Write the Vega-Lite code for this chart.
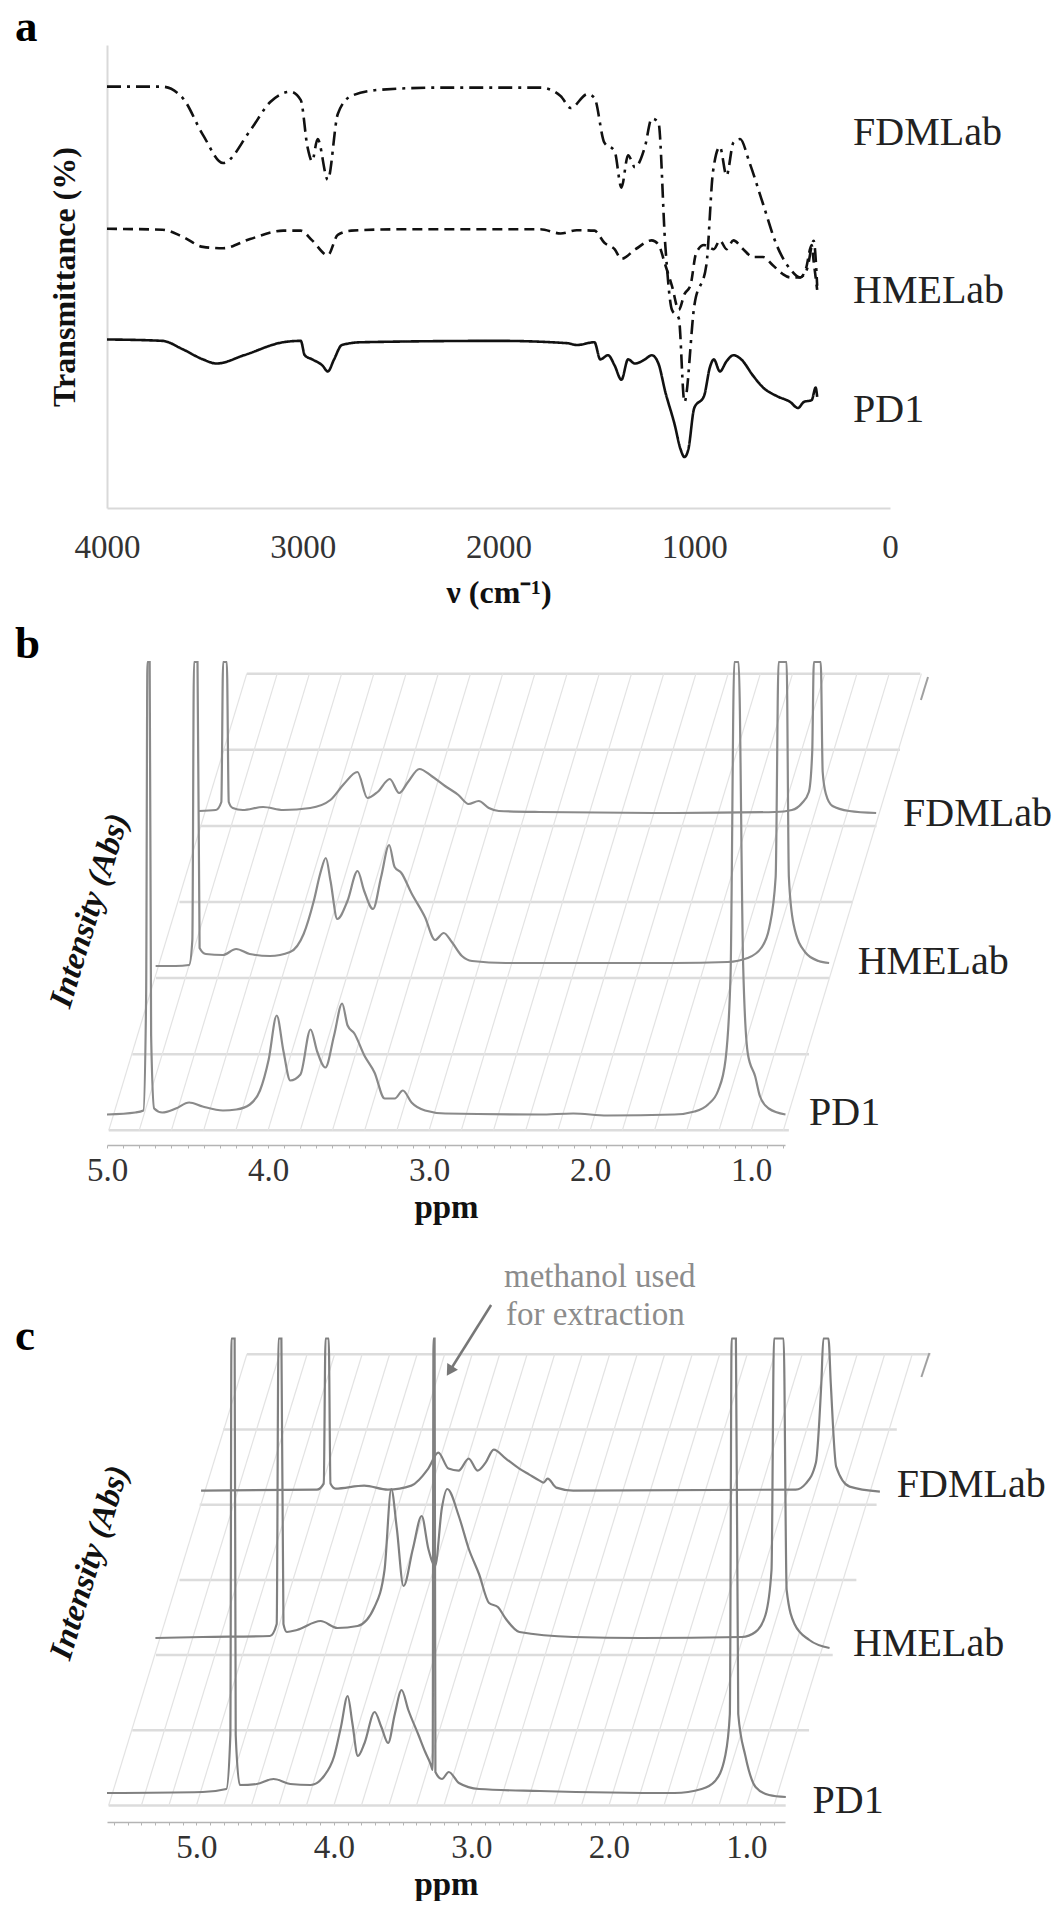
{
  "$schema": "https://vega.github.io/schema/vega-lite/v6.json",
  "padding": {"left": 14, "top": 5, "right": 0, "bottom": 0},
  "bounds": "flush",
  "spacing": 154,
  "config": {
    "view": {"stroke": null},
    "font": "Liberation Serif, Times New Roman, serif",
    "axis": {"labelFont": "Liberation Serif, Times New Roman, serif", "titleFont": "Liberation Serif, Times New Roman, serif", "grid": false},
    "text": {"font": "Liberation Serif, Times New Roman, serif"}
  },
  "datasets": {
    "ftir": [
      {"s":"FDMLab","wn":4000,"t":91.0},{"s":"FDMLab","wn":3717,"t":91.0},{"s":"FDMLab","wn":3614,"t":88.6},{"s":"FDMLab","wn":3510,"t":80.6},{"s":"FDMLab","wn":3407,"t":74.5},{"s":"FDMLab","wn":3269,"t":81.5},{"s":"FDMLab","wn":3166,"t":87.7},{"s":"FDMLab","wn":3062,"t":89.9},{"s":"FDMLab","wn":3010,"t":88.1},{"s":"FDMLab","wn":2976,"t":78.0},{"s":"FDMLab","wn":2952,"t":74.9},{"s":"FDMLab","wn":2924,"t":79.7},{"s":"FDMLab","wn":2872,"t":70.9},{"s":"FDMLab","wn":2821,"t":85.1},{"s":"FDMLab","wn":2752,"t":89.0},{"s":"FDMLab","wn":2614,"t":90.3},{"s":"FDMLab","wn":2303,"t":90.8},{"s":"FDMLab","wn":1786,"t":90.8},{"s":"FDMLab","wn":1683,"t":89.0},{"s":"FDMLab","wn":1631,"t":86.4},{"s":"FDMLab","wn":1545,"t":89.4},{"s":"FDMLab","wn":1510,"t":88.6},{"s":"FDMLab","wn":1459,"t":78.9},{"s":"FDMLab","wn":1407,"t":77.1},{"s":"FDMLab","wn":1372,"t":69.2},{"s":"FDMLab","wn":1338,"t":76.2},{"s":"FDMLab","wn":1303,"t":73.6},{"s":"FDMLab","wn":1252,"t":78.0},{"s":"FDMLab","wn":1217,"t":84.1},{"s":"FDMLab","wn":1183,"t":83.3},{"s":"FDMLab","wn":1148,"t":56.8},{"s":"FDMLab","wn":1114,"t":42.8},{"s":"FDMLab","wn":1079,"t":41.0},{"s":"FDMLab","wn":1050,"t":22.9},{"s":"FDMLab","wn":1000,"t":43.6},{"s":"FDMLab","wn":938,"t":52.5},{"s":"FDMLab","wn":904,"t":72.7},{"s":"FDMLab","wn":869,"t":78.0},{"s":"FDMLab","wn":835,"t":71.8},{"s":"FDMLab","wn":800,"t":78.9},{"s":"FDMLab","wn":766,"t":79.7},{"s":"FDMLab","wn":717,"t":74.5},{"s":"FDMLab","wn":648,"t":65.6},{"s":"FDMLab","wn":579,"t":56.8},{"s":"FDMLab","wn":510,"t":51.6},{"s":"FDMLab","wn":459,"t":49.8},{"s":"FDMLab","wn":424,"t":51.6},{"s":"FDMLab","wn":390,"t":57.7},{"s":"FDMLab","wn":372,"t":48.0},
      {"s":"HMELab","wn":4000,"t":60.3},{"s":"HMELab","wn":3717,"t":60.1},{"s":"HMELab","wn":3614,"t":58.6},{"s":"HMELab","wn":3510,"t":56.4},{"s":"HMELab","wn":3407,"t":56.1},{"s":"HMELab","wn":3269,"t":58.1},{"s":"HMELab","wn":3100,"t":59.9},{"s":"HMELab","wn":3010,"t":59.9},{"s":"HMELab","wn":2952,"t":57.8},{"s":"HMELab","wn":2872,"t":54.6},{"s":"HMELab","wn":2821,"t":59.0},{"s":"HMELab","wn":2752,"t":59.9},{"s":"HMELab","wn":2500,"t":60.2},{"s":"HMELab","wn":1786,"t":60.2},{"s":"HMELab","wn":1683,"t":59.3},{"s":"HMELab","wn":1600,"t":60.0},{"s":"HMELab","wn":1510,"t":59.9},{"s":"HMELab","wn":1459,"t":57.3},{"s":"HMELab","wn":1407,"t":55.9},{"s":"HMELab","wn":1372,"t":53.8},{"s":"HMELab","wn":1300,"t":55.9},{"s":"HMELab","wn":1217,"t":57.8},{"s":"HMELab","wn":1183,"t":56.9},{"s":"HMELab","wn":1148,"t":52.5},{"s":"HMELab","wn":1114,"t":48.0},{"s":"HMELab","wn":1079,"t":42.8},{"s":"HMELab","wn":1050,"t":46.2},{"s":"HMELab","wn":1020,"t":48.0},{"s":"HMELab","wn":990,"t":55.1},{"s":"HMELab","wn":950,"t":56.8},{"s":"HMELab","wn":900,"t":55.9},{"s":"HMELab","wn":869,"t":57.8},{"s":"HMELab","wn":835,"t":55.9},{"s":"HMELab","wn":800,"t":57.8},{"s":"HMELab","wn":750,"t":55.9},{"s":"HMELab","wn":700,"t":54.2},{"s":"HMELab","wn":648,"t":54.2},{"s":"HMELab","wn":600,"t":52.5},{"s":"HMELab","wn":550,"t":50.6},{"s":"HMELab","wn":510,"t":49.8},{"s":"HMELab","wn":459,"t":49.8},{"s":"HMELab","wn":430,"t":51.6},{"s":"HMELab","wn":400,"t":56.8},{"s":"HMELab","wn":390,"t":53.3},{"s":"HMELab","wn":372,"t":47.1},
      {"s":"PD1","wn":4000,"t":36.4},{"s":"PD1","wn":3717,"t":36.1},{"s":"PD1","wn":3614,"t":34.3},{"s":"PD1","wn":3510,"t":32.1},{"s":"PD1","wn":3440,"t":31.2},{"s":"PD1","wn":3300,"t":33.0},{"s":"PD1","wn":3100,"t":35.8},{"s":"PD1","wn":3010,"t":36.1},{"s":"PD1","wn":2990,"t":33.0},{"s":"PD1","wn":2952,"t":32.1},{"s":"PD1","wn":2900,"t":30.8},{"s":"PD1","wn":2872,"t":29.5},{"s":"PD1","wn":2840,"t":32.1},{"s":"PD1","wn":2800,"t":35.2},{"s":"PD1","wn":2700,"t":35.8},{"s":"PD1","wn":2000,"t":36.1},{"s":"PD1","wn":1650,"t":35.6},{"s":"PD1","wn":1600,"t":35.2},{"s":"PD1","wn":1510,"t":35.8},{"s":"PD1","wn":1480,"t":32.1},{"s":"PD1","wn":1440,"t":33.0},{"s":"PD1","wn":1407,"t":30.8},{"s":"PD1","wn":1372,"t":27.7},{"s":"PD1","wn":1338,"t":32.1},{"s":"PD1","wn":1303,"t":31.2},{"s":"PD1","wn":1252,"t":32.1},{"s":"PD1","wn":1217,"t":33.0},{"s":"PD1","wn":1183,"t":31.2},{"s":"PD1","wn":1148,"t":25.1},{"s":"PD1","wn":1100,"t":18.0},{"s":"PD1","wn":1070,"t":12.7},{"s":"PD1","wn":1050,"t":11.0},{"s":"PD1","wn":1030,"t":12.7},{"s":"PD1","wn":1000,"t":21.6},{"s":"PD1","wn":950,"t":24.2},{"s":"PD1","wn":920,"t":30.4},{"s":"PD1","wn":900,"t":32.1},{"s":"PD1","wn":869,"t":29.5},{"s":"PD1","wn":835,"t":31.7},{"s":"PD1","wn":800,"t":33.0},{"s":"PD1","wn":760,"t":32.1},{"s":"PD1","wn":700,"t":28.6},{"s":"PD1","wn":648,"t":26.0},{"s":"PD1","wn":580,"t":24.2},{"s":"PD1","wn":510,"t":22.9},{"s":"PD1","wn":470,"t":21.6},{"s":"PD1","wn":440,"t":22.9},{"s":"PD1","wn":400,"t":23.3},{"s":"PD1","wn":380,"t":26.0},{"s":"PD1","wn":372,"t":24.0}
    ],
    "ftir_labels": [
      {"s":"FDMLab","wn":189,"t":81.0},{"s":"HMELab","wn":189,"t":46.9},{"s":"PD1","wn":189,"t":21.2}
    ],
    "b_pd1": [
      {"ppm":5.0,"int":0},{"ppm":4.824,"int":2},{"ppm":4.774,"int":4},{"ppm":4.757,"int":119},{"ppm":4.749,"int":452.5},{"ppm":4.735,"int":452.5},{"ppm":4.726,"int":79},{"ppm":4.707,"int":6},{"ppm":4.657,"int":2},{"ppm":4.573,"int":6},{"ppm":4.49,"int":12},{"ppm":4.406,"int":8},{"ppm":4.28,"int":4},{"ppm":4.197,"int":5},{"ppm":4.113,"int":10},{"ppm":4.05,"int":24},{"ppm":3.996,"int":55},{"ppm":3.946,"int":99},{"ppm":3.904,"int":63},{"ppm":3.862,"int":34},{"ppm":3.799,"int":40},{"ppm":3.736,"int":85},{"ppm":3.695,"int":63},{"ppm":3.644,"int":47},{"ppm":3.59,"int":79},{"ppm":3.54,"int":111},{"ppm":3.506,"int":89},{"ppm":3.464,"int":81},{"ppm":3.402,"int":59},{"ppm":3.339,"int":42},{"ppm":3.276,"int":16},{"ppm":3.213,"int":16},{"ppm":3.163,"int":24},{"ppm":3.109,"int":12},{"ppm":3.025,"int":4},{"ppm":2.9,"int":1},{"ppm":2.314,"int":0},{"ppm":2.105,"int":1},{"ppm":1.895,"int":-1},{"ppm":1.477,"int":0},{"ppm":1.351,"int":3},{"ppm":1.268,"int":10},{"ppm":1.205,"int":24},{"ppm":1.159,"int":55},{"ppm":1.128,"int":140},{"ppm":1.105,"int":452.5},{"ppm":1.078,"int":452.5},{"ppm":1.05,"int":150},{"ppm":1.02,"int":60},{"ppm":0.975,"int":38},{"ppm":0.945,"int":18},{"ppm":0.891,"int":6},{"ppm":0.787,"int":0}
    ],
    "b_hme": [
      {"ppm":4.99,"int":-2},{"ppm":4.866,"int":-2},{"ppm":4.782,"int":-1},{"ppm":4.762,"int":24},{"ppm":4.752,"int":302},{"ppm":4.73,"int":302},{"ppm":4.717,"int":16},{"ppm":4.678,"int":10},{"ppm":4.573,"int":9},{"ppm":4.49,"int":15},{"ppm":4.406,"int":10},{"ppm":4.28,"int":8},{"ppm":4.155,"int":12},{"ppm":4.071,"int":30},{"ppm":4.008,"int":63},{"ppm":3.967,"int":91},{"ppm":3.933,"int":106},{"ppm":3.904,"int":83},{"ppm":3.862,"int":45},{"ppm":3.799,"int":63},{"ppm":3.736,"int":93},{"ppm":3.695,"int":73},{"ppm":3.64,"int":55},{"ppm":3.59,"int":87},{"ppm":3.54,"int":119},{"ppm":3.506,"int":97},{"ppm":3.464,"int":91},{"ppm":3.402,"int":71},{"ppm":3.318,"int":47},{"ppm":3.255,"int":24},{"ppm":3.201,"int":31},{"ppm":3.151,"int":22},{"ppm":3.088,"int":8},{"ppm":3.025,"int":3},{"ppm":2.816,"int":1},{"ppm":2.188,"int":1},{"ppm":1.77,"int":1},{"ppm":1.439,"int":2},{"ppm":1.314,"int":6},{"ppm":1.23,"int":16},{"ppm":1.18,"int":36},{"ppm":1.14,"int":87},{"ppm":1.122,"int":302},{"ppm":1.072,"int":302},{"ppm":1.058,"int":87},{"ppm":1.029,"int":40},{"ppm":0.958,"int":12},{"ppm":0.874,"int":3},{"ppm":0.808,"int":1}
    ],
    "b_fdm": [
      {"ppm":5.013,"int":1},{"ppm":4.908,"int":2},{"ppm":4.874,"int":10},{"ppm":4.863,"int":150},{"ppm":4.84,"int":150},{"ppm":4.828,"int":10},{"ppm":4.803,"int":4},{"ppm":4.741,"int":2},{"ppm":4.615,"int":5},{"ppm":4.49,"int":2},{"ppm":4.322,"int":4},{"ppm":4.197,"int":12},{"ppm":4.113,"int":28},{"ppm":4.029,"int":40},{"ppm":3.967,"int":14},{"ppm":3.904,"int":20},{"ppm":3.828,"int":33},{"ppm":3.77,"int":19},{"ppm":3.715,"int":30},{"ppm":3.644,"int":43},{"ppm":3.569,"int":36},{"ppm":3.485,"int":26},{"ppm":3.402,"int":17},{"ppm":3.339,"int":8},{"ppm":3.276,"int":11},{"ppm":3.213,"int":4},{"ppm":3.151,"int":1},{"ppm":2.9,"int":0},{"ppm":2.063,"int":-1},{"ppm":1.435,"int":0},{"ppm":1.331,"int":2},{"ppm":1.268,"int":9},{"ppm":1.226,"int":20},{"ppm":1.205,"int":60},{"ppm":1.195,"int":150},{"ppm":1.152,"int":150},{"ppm":1.14,"int":40},{"ppm":1.12,"int":18},{"ppm":1.079,"int":6},{"ppm":0.975,"int":1},{"ppm":0.808,"int":-1}
    ],
    "c_pd1": [
      {"ppm":5.65,"int":0},{"ppm":4.954,"int":1},{"ppm":4.782,"int":4},{"ppm":4.753,"int":58},{"ppm":4.745,"int":454.5},{"ppm":4.722,"int":454.5},{"ppm":4.714,"int":58},{"ppm":4.684,"int":8},{"ppm":4.562,"int":9},{"ppm":4.439,"int":14},{"ppm":4.317,"int":9},{"ppm":4.17,"int":8},{"ppm":4.072,"int":17},{"ppm":3.998,"int":37},{"ppm":3.949,"int":66},{"ppm":3.9,"int":97},{"ppm":3.866,"int":70},{"ppm":3.826,"int":37},{"ppm":3.777,"int":50},{"ppm":3.704,"int":81},{"ppm":3.655,"int":66},{"ppm":3.606,"int":50},{"ppm":3.557,"int":79},{"ppm":3.508,"int":103},{"ppm":3.459,"int":83},{"ppm":3.385,"int":58},{"ppm":3.336,"int":41},{"ppm":3.297,"int":29},{"ppm":3.282,"int":23},{"ppm":3.276,"int":454.5},{"ppm":3.268,"int":454.5},{"ppm":3.262,"int":21},{"ppm":3.214,"int":14},{"ppm":3.165,"int":21},{"ppm":3.091,"int":10},{"ppm":2.944,"int":4},{"ppm":2.503,"int":2},{"ppm":1.523,"int":0},{"ppm":1.326,"int":4},{"ppm":1.228,"int":12},{"ppm":1.155,"int":37},{"ppm":1.121,"int":79},{"ppm":1.108,"int":454.5},{"ppm":1.077,"int":454.5},{"ppm":1.06,"int":79},{"ppm":1.008,"int":37},{"ppm":0.934,"int":6},{"ppm":0.836,"int":-2},{"ppm":0.714,"int":-4}
    ],
    "c_hme": [
      {"ppm":5.64,"int":0},{"ppm":5.297,"int":1},{"ppm":4.807,"int":2},{"ppm":4.758,"int":14},{"ppm":4.745,"int":299.5},{"ppm":4.724,"int":299.5},{"ppm":4.709,"int":14},{"ppm":4.684,"int":6},{"ppm":4.611,"int":8},{"ppm":4.439,"int":17},{"ppm":4.317,"int":10},{"ppm":4.17,"int":12},{"ppm":4.047,"int":31},{"ppm":3.974,"int":68},{"ppm":3.925,"int":149},{"ppm":3.885,"int":110},{"ppm":3.836,"int":52},{"ppm":3.768,"int":89},{"ppm":3.704,"int":122},{"ppm":3.655,"int":89},{"ppm":3.606,"int":72},{"ppm":3.557,"int":130},{"ppm":3.518,"int":149},{"ppm":3.434,"int":122},{"ppm":3.361,"int":89},{"ppm":3.287,"int":64},{"ppm":3.214,"int":35},{"ppm":3.15,"int":31},{"ppm":3.091,"int":19},{"ppm":2.993,"int":6},{"ppm":2.601,"int":1},{"ppm":2.111,"int":0},{"ppm":1.375,"int":1},{"ppm":1.277,"int":6},{"ppm":1.204,"int":23},{"ppm":1.16,"int":68},{"ppm":1.142,"int":299.5},{"ppm":1.072,"int":299.5},{"ppm":1.05,"int":48},{"ppm":0.993,"int":14},{"ppm":0.885,"int":-2},{"ppm":0.738,"int":-10}
    ],
    "c_fdm": [
      {"ppm":5.65,"int":0},{"ppm":4.807,"int":1},{"ppm":4.758,"int":7},{"ppm":4.745,"int":152.1},{"ppm":4.722,"int":152.1},{"ppm":4.709,"int":7},{"ppm":4.674,"int":2},{"ppm":4.464,"int":5},{"ppm":4.292,"int":1},{"ppm":4.121,"int":5},{"ppm":3.998,"int":22},{"ppm":3.925,"int":38},{"ppm":3.851,"int":22},{"ppm":3.777,"int":20},{"ppm":3.704,"int":32},{"ppm":3.64,"int":20},{"ppm":3.581,"int":28},{"ppm":3.522,"int":41},{"ppm":3.434,"int":32},{"ppm":3.336,"int":22},{"ppm":3.263,"int":16},{"ppm":3.189,"int":10},{"ppm":3.16,"int":8},{"ppm":3.13,"int":12},{"ppm":3.067,"int":3},{"ppm":2.944,"int":0},{"ppm":1.326,"int":1},{"ppm":1.253,"int":7},{"ppm":1.179,"int":28},{"ppm":1.14,"int":107},{"ppm":1.125,"int":152.1},{"ppm":1.088,"int":152.1},{"ppm":1.071,"int":107},{"ppm":1.032,"int":24},{"ppm":0.934,"int":4},{"ppm":0.714,"int":-1}
    ],
    "b_gridh": [
      {"ppm":4.989,"ppm2":0.766,"int":-15.8},{"ppm":4.843,"ppm2":0.641,"int":60.3},{"ppm":4.696,"ppm2":0.515,"int":136.4},{"ppm":4.55,"ppm2":0.368,"int":212.5},{"ppm":4.424,"ppm2":0.222,"int":288.6},{"ppm":4.278,"ppm2":0.076,"int":364.7},{"ppm":4.132,"ppm2":-0.05,"int":440.8}
    ],
    "b_grids": [
      {"ppm":4.989,"ppm2":4.132,"int":-15.8,"int2":440.8},{"ppm":4.8,"ppm2":3.943,"int":-15.8,"int2":440.8},{"ppm":4.6,"ppm2":3.743,"int":-15.8,"int2":440.8},{"ppm":4.4,"ppm2":3.543,"int":-15.8,"int2":440.8},{"ppm":4.2,"ppm2":3.343,"int":-15.8,"int2":440.8},{"ppm":4.0,"ppm2":3.143,"int":-15.8,"int2":440.8},{"ppm":3.8,"ppm2":2.943,"int":-15.8,"int2":440.8},{"ppm":3.6,"ppm2":2.743,"int":-15.8,"int2":440.8},{"ppm":3.4,"ppm2":2.543,"int":-15.8,"int2":440.8},{"ppm":3.2,"ppm2":2.343,"int":-15.8,"int2":440.8},{"ppm":3.0,"ppm2":2.143,"int":-15.8,"int2":440.8},{"ppm":2.8,"ppm2":1.943,"int":-15.8,"int2":440.8},{"ppm":2.6,"ppm2":1.743,"int":-15.8,"int2":440.8},{"ppm":2.4,"ppm2":1.543,"int":-15.8,"int2":440.8},{"ppm":2.2,"ppm2":1.343,"int":-15.8,"int2":440.8},{"ppm":2.0,"ppm2":1.143,"int":-15.8,"int2":440.8},{"ppm":1.8,"ppm2":0.943,"int":-15.8,"int2":440.8},{"ppm":1.6,"ppm2":0.743,"int":-15.8,"int2":440.8},{"ppm":1.4,"ppm2":0.543,"int":-15.8,"int2":440.8},{"ppm":1.2,"ppm2":0.343,"int":-15.8,"int2":440.8},{"ppm":1.0,"ppm2":0.143,"int":-15.8,"int2":440.8},{"ppm":0.8,"ppm2":-0.057,"int":-15.8,"int2":440.8}
    ],
    "c_gridh": [
      {"ppm":5.638,"ppm2":0.715,"int":-12.5},{"ppm":5.466,"ppm2":0.545,"int":62.7},{"ppm":5.294,"ppm2":0.373,"int":137.9},{"ppm":5.123,"ppm2":0.201,"int":213.1},{"ppm":4.976,"ppm2":0.054,"int":288.3},{"ppm":4.805,"ppm2":-0.093,"int":363.5},{"ppm":4.633,"ppm2":-0.338,"int":438.7}
    ],
    "c_grids": [
      {"ppm":5.638,"ppm2":4.633,"int":-12.5,"int2":438.7},{"ppm":5.4,"ppm2":4.395,"int":-12.5,"int2":438.7},{"ppm":5.2,"ppm2":4.195,"int":-12.5,"int2":438.7},{"ppm":5.0,"ppm2":3.995,"int":-12.5,"int2":438.7},{"ppm":4.8,"ppm2":3.795,"int":-12.5,"int2":438.7},{"ppm":4.6,"ppm2":3.595,"int":-12.5,"int2":438.7},{"ppm":4.4,"ppm2":3.395,"int":-12.5,"int2":438.7},{"ppm":4.2,"ppm2":3.195,"int":-12.5,"int2":438.7},{"ppm":4.0,"ppm2":2.995,"int":-12.5,"int2":438.7},{"ppm":3.8,"ppm2":2.795,"int":-12.5,"int2":438.7},{"ppm":3.6,"ppm2":2.595,"int":-12.5,"int2":438.7},{"ppm":3.4,"ppm2":2.395,"int":-12.5,"int2":438.7},{"ppm":3.2,"ppm2":2.195,"int":-12.5,"int2":438.7},{"ppm":3.0,"ppm2":1.995,"int":-12.5,"int2":438.7},{"ppm":2.8,"ppm2":1.795,"int":-12.5,"int2":438.7},{"ppm":2.6,"ppm2":1.595,"int":-12.5,"int2":438.7},{"ppm":2.4,"ppm2":1.395,"int":-12.5,"int2":438.7},{"ppm":2.2,"ppm2":1.195,"int":-12.5,"int2":438.7},{"ppm":2.0,"ppm2":0.995,"int":-12.5,"int2":438.7},{"ppm":1.8,"ppm2":0.795,"int":-12.5,"int2":438.7},{"ppm":1.6,"ppm2":0.595,"int":-12.5,"int2":438.7},{"ppm":1.4,"ppm2":0.395,"int":-12.5,"int2":438.7},{"ppm":1.2,"ppm2":0.195,"int":-12.5,"int2":438.7},{"ppm":1.0,"ppm2":-0.005,"int":-12.5,"int2":438.7},{"ppm":0.8,"ppm2":-0.205,"int":-12.5,"int2":438.7}
    ]
  },
  "vconcat": [
    {
      "width": 783,
      "height": 463,
      "encoding": {
        "x": {"field": "wn", "type": "quantitative", "title": "ν (cm⁻¹)",
          "scale": {"domain": [0, 4000], "reverse": true, "nice": false, "zero": false},
          "axis": {"values": [4000, 3000, 2000, 1000, 0], "format": "d", "ticks": false, "tickSize": 0, "labelPadding": 23, "labelFlush": false, "labelFontSize": 33, "labelColor": "#333", "domainColor": "#d9d9d9", "domainWidth": 2, "titleFontSize": 32, "titleFontWeight": "bold", "titleColor": "#111", "titleBaseline": "alphabetic", "titleY": 94}},
        "y": {"field": "t", "type": "quantitative", "title": "Transmittance (%)",
          "scale": {"domain": [0, 100], "nice": false, "zero": false},
          "axis": {"ticks": false, "labels": false, "domainColor": "#d9d9d9", "domainWidth": 2, "titleFontSize": 32, "titleFontWeight": "bold", "titleColor": "#111", "titlePadding": 26}}
      },
      "layer": [
        {
          "data": {"name": "ftir"},
          "mark": {"type": "line", "color": "#111", "strokeWidth": 2.6, "interpolate": "monotone"},
          "encoding": {
            "strokeDash": {"field": "s", "type": "nominal", "scale": {"domain": ["FDMLab", "HMELab", "PD1"], "range": [[14, 6, 3, 6], [10, 6], [1, 0]]}, "legend": null}
          }
        },
        {
          "data": {"name": "ftir_labels"},
          "mark": {"type": "text", "align": "left", "baseline": "middle", "fontSize": 40, "color": "#222"},
          "encoding": {"text": {"field": "s"}}
        },
        {
          "data": {"values": [{"wn": 4470, "t": 100.86, "label": "a"}]},
          "mark": {"type": "text", "align": "left", "baseline": "alphabetic", "fontSize": 45, "fontWeight": "bold", "color": "#000"},
          "encoding": {"text": {"field": "label"}}
        }
      ]
    },
    {
      "width": 678,
      "height": 483,
      "resolve": {"scale": {"x": "independent", "y": "independent"}},
      "layer": [
        {
          "encoding": {
            "x": {"field": "ppm", "type": "quantitative", "title": "ppm",
              "scale": {"domain": [0.79, 5.0], "reverse": true, "nice": false, "zero": false},
              "axis": {"values": [0.8,0.9,1.0,1.1,1.2,1.3,1.4,1.5,1.6,1.7,1.8,1.9,2.0,2.1,2.2,2.3,2.4,2.5,2.6,2.7,2.8,2.9,3.0,3.1,3.2,3.3,3.4,3.5,3.6,3.7,3.8,3.9,4.0,4.1,4.2,4.3,4.4,4.5,4.6,4.7,4.8,4.9,5.0],
                "labelExpr": "abs(datum.value - round(datum.value)) < 0.001 ? format(datum.value, '.1f') : ''",
                "labelOverlap": false, "labelFlush": false, "tickSize": 3, "tickColor": "#b4b4b4", "tickWidth": 1, "domainColor": "#b4b4b4", "domainWidth": 1.5, "labelPadding": 6, "labelFontSize": 33, "labelColor": "#333", "titleFontSize": 33, "titleFontWeight": "bold", "titleColor": "#111", "titleBaseline": "alphabetic", "titleY": 72}},
            "y": {"field": "int", "type": "quantitative", "title": "Intensity (Abs)",
              "scale": {"domain": [-30.5, 452.5], "nice": false, "zero": false},
              "axis": {"domain": false, "ticks": false, "labels": false, "titleAngle": 287, "titleX": -18, "titleY": 248, "titleAlign": "center", "titleBaseline": "middle", "titleFontSize": 33, "titleFontWeight": "bold", "titleFontStyle": "italic", "titleColor": "#111"}}
          },
          "layer": [
            {"data": {"name": "b_gridh"}, "mark": {"type": "rule", "color": "#dcdcdc", "strokeWidth": 2.5}, "encoding": {"x2": {"field": "ppm2"}}},
            {"data": {"name": "b_grids"}, "mark": {"type": "rule", "color": "#e3e3e3", "strokeWidth": 1.2}, "encoding": {"x2": {"field": "ppm2"}, "y2": {"field": "int2"}}},
            {"data": {"values": [{"ppm": -0.098, "ppm2": -0.054, "int": 437.5, "int2": 414.5}]}, "mark": {"type": "rule", "color": "#a0a0a0", "strokeWidth": 2}, "encoding": {"x2": {"field": "ppm2"}, "y2": {"field": "int2"}}},
            {"data": {"name": "b_pd1"}, "mark": {"type": "line", "color": "#8a8a8a", "strokeWidth": 2.2, "interpolate": "monotone"}},
            {"data": {"values": [{"ppm": 0.641, "int": 2, "label": "PD1"}]}, "mark": {"type": "text", "align": "left", "baseline": "middle", "fontSize": 40, "color": "#222"}, "encoding": {"text": {"field": "label"}}},
            {"data": {"values": [{"ppm": 5.571, "int": 456.5, "label": "b"}]}, "mark": {"type": "text", "align": "left", "baseline": "alphabetic", "fontSize": 45, "fontWeight": "bold", "color": "#000"}, "encoding": {"text": {"field": "label"}}}
          ]
        },
        {
          "encoding": {
            "x": {"field": "ppm", "type": "quantitative", "scale": {"domain": [1.082, 5.292], "reverse": true, "nice": false, "zero": false}, "axis": null},
            "y": {"field": "int", "type": "quantitative", "scale": {"domain": [-181, 302], "nice": false, "zero": false}, "axis": null}
          },
          "layer": [
            {"data": {"name": "b_hme"}, "mark": {"type": "line", "color": "#8a8a8a", "strokeWidth": 2.2, "interpolate": "monotone"}},
            {"data": {"values": [{"ppm": 0.631, "int": 1.7, "label": "HMELab"}]}, "mark": {"type": "text", "align": "left", "baseline": "middle", "fontSize": 40, "color": "#222"}, "encoding": {"text": {"field": "label"}}}
          ]
        },
        {
          "encoding": {
            "x": {"field": "ppm", "type": "quantitative", "scale": {"domain": [1.374, 5.584], "reverse": true, "nice": false, "zero": false}, "axis": null},
            "y": {"field": "int", "type": "quantitative", "scale": {"domain": [-333, 150], "nice": false, "zero": false}, "axis": null}
          },
          "layer": [
            {"data": {"name": "b_fdm"}, "mark": {"type": "line", "color": "#8a8a8a", "strokeWidth": 2.2, "interpolate": "monotone"}},
            {"data": {"values": [{"ppm": 0.641, "int": -2, "label": "FDMLab"}]}, "mark": {"type": "text", "align": "left", "baseline": "middle", "fontSize": 40, "color": "#222"}, "encoding": {"text": {"field": "label"}}}
          ]
        }
      ]
    },
    {
      "width": 678,
      "height": 523,
      "resolve": {"scale": {"x": "independent", "y": "independent"}},
      "layer": [
        {
          "encoding": {
            "x": {"field": "ppm", "type": "quantitative", "title": "ppm",
              "scale": {"domain": [0.72, 5.65], "reverse": true, "nice": false, "zero": false},
              "axis": {"values": [0.8,0.9,1.0,1.1,1.2,1.3,1.4,1.5,1.6,1.7,1.8,1.9,2.0,2.1,2.2,2.3,2.4,2.5,2.6,2.7,2.8,2.9,3.0,3.1,3.2,3.3,3.4,3.5,3.6,3.7,3.8,3.9,4.0,4.1,4.2,4.3,4.4,4.5,4.6,4.7,4.8,4.9,5.0,5.1,5.2,5.3,5.4,5.5,5.6],
                "labelExpr": "abs(datum.value - round(datum.value)) < 0.001 ? format(datum.value, '.1f') : ''",
                "labelOverlap": false, "labelFlush": false, "tickSize": 3, "tickColor": "#b4b4b4", "tickWidth": 1, "domainColor": "#b4b4b4", "domainWidth": 1.5, "labelPadding": 6, "labelFontSize": 33, "labelColor": "#333", "titleFontSize": 33, "titleFontWeight": "bold", "titleColor": "#111", "titleBaseline": "alphabetic", "titleY": 72}},
            "y": {"field": "int", "type": "quantitative", "title": "Intensity (Abs)",
              "scale": {"domain": [-29, 494], "nice": false, "zero": false},
              "axis": {"domain": false, "ticks": false, "labels": false, "titleAngle": 287, "titleX": -18, "titleY": 263, "titleAlign": "center", "titleBaseline": "middle", "titleFontSize": 33, "titleFontWeight": "bold", "titleFontStyle": "italic", "titleColor": "#111"}}
          },
          "layer": [
            {"data": {"name": "c_gridh"}, "mark": {"type": "rule", "color": "#dcdcdc", "strokeWidth": 2.5}, "encoding": {"x2": {"field": "ppm2"}}},
            {"data": {"name": "c_grids"}, "mark": {"type": "rule", "color": "#e3e3e3", "strokeWidth": 1.2}, "encoding": {"x2": {"field": "ppm2"}, "y2": {"field": "int2"}}},
            {"data": {"values": [{"ppm": -0.33, "ppm2": -0.272, "int": 440, "int2": 416}]}, "mark": {"type": "rule", "color": "#a0a0a0", "strokeWidth": 2}, "encoding": {"x2": {"field": "ppm2"}, "y2": {"field": "int2"}}},
            {"data": {"name": "c_pd1"}, "mark": {"type": "line", "color": "#808080", "strokeWidth": 2.2, "interpolate": "monotone"}},
            {"data": {"values": [{"ppm": 0.52, "int": -8, "label": "PD1"}]}, "mark": {"type": "text", "align": "left", "baseline": "middle", "fontSize": 40, "color": "#222"}, "encoding": {"text": {"field": "label"}}},
            {"data": {"values": [{"ppm": 2.763, "int": 506, "label": "methanol used"}, {"ppm": 2.749, "int": 468, "label": "for extraction"}]}, "mark": {"type": "text", "align": "left", "baseline": "alphabetic", "fontSize": 33, "color": "#8c8c8c"}, "encoding": {"text": {"field": "label"}}},
            {"data": {"values": [{"ppm": 2.857, "int": 488, "ppm2": 3.158, "int2": 422}]}, "mark": {"type": "rule", "color": "#777777", "strokeWidth": 2.5}, "encoding": {"x2": {"field": "ppm2"}, "y2": {"field": "int2"}}},
            {"data": {"values": [{"ppm": 3.158, "int": 422}]}, "mark": {"type": "point", "shape": "triangle-up", "filled": true, "angle": 212, "size": 160, "color": "#777777", "opacity": 1}},
            {"data": {"values": [{"ppm": 6.319, "int": 443, "label": "c"}]}, "mark": {"type": "text", "align": "left", "baseline": "alphabetic", "fontSize": 45, "fontWeight": "bold", "color": "#000"}, "encoding": {"text": {"field": "label"}}}
          ]
        },
        {
          "encoding": {
            "x": {"field": "ppm", "type": "quantitative", "scale": {"domain": [1.062, 5.992], "reverse": true, "nice": false, "zero": false}, "axis": null},
            "y": {"field": "int", "type": "quantitative", "scale": {"domain": [-184, 339], "nice": false, "zero": false}, "axis": null}
          },
          "layer": [
            {"data": {"name": "c_hme"}, "mark": {"type": "line", "color": "#808080", "strokeWidth": 2.2, "interpolate": "monotone"}},
            {"data": {"values": [{"ppm": 0.567, "int": -6, "label": "HMELab"}]}, "mark": {"type": "text", "align": "left", "baseline": "middle", "fontSize": 40, "color": "#222"}, "encoding": {"text": {"field": "label"}}}
          ]
        },
        {
          "encoding": {
            "x": {"field": "ppm", "type": "quantitative", "scale": {"domain": [1.404, 6.334], "reverse": true, "nice": false, "zero": false}, "axis": null},
            "y": {"field": "int", "type": "quantitative", "scale": {"domain": [-331.4, 191.6], "nice": false, "zero": false}, "axis": null}
          },
          "layer": [
            {"data": {"name": "c_fdm"}, "mark": {"type": "line", "color": "#808080", "strokeWidth": 2.2, "interpolate": "monotone"}},
            {"data": {"values": [{"ppm": 0.591, "int": 5.6, "label": "FDMLab"}]}, "mark": {"type": "text", "align": "left", "baseline": "middle", "fontSize": 40, "color": "#222"}, "encoding": {"text": {"field": "label"}}}
          ]
        }
      ]
    }
  ]
}
